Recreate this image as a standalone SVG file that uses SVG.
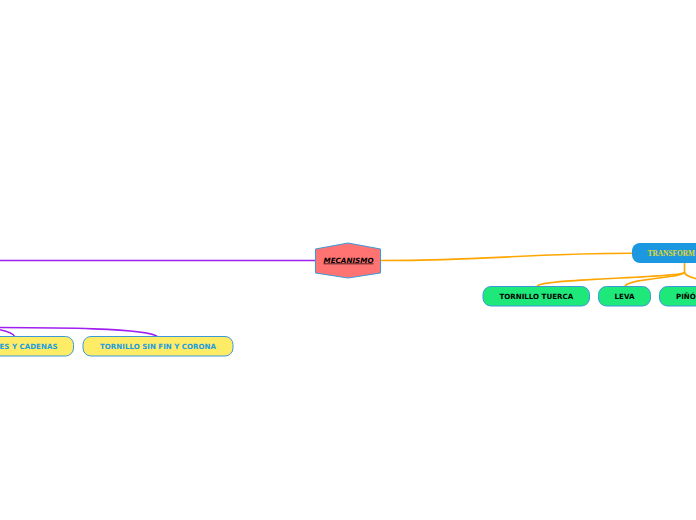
<svg xmlns="http://www.w3.org/2000/svg" width="696" height="520" viewBox="0 0 696 520">
<style>
.lbl{font-family:"DejaVu Sans",Verdana,sans-serif;font-weight:bold;font-size:7.1px;text-anchor:middle}
.green rect{fill:#1ee87a;stroke:#3a9ad9;stroke-width:1}
.yellow rect{fill:#ffec66;stroke:#3a9ad9;stroke-width:1}
.yellow text{fill:#1a9be0}
.green text{fill:#000}
.purple{fill:none;stroke:#a020f0;stroke-width:1.6}
.orange{fill:none;stroke:#ffa500;stroke-width:1.6}
</style>
<rect width="696" height="520" fill="#fff"/>
<g id="connectors">
<path class="purple" d="M0 260.5 H316" stroke-width="2"/>
<path class="purple" d="M-40 327.5 C60 327.5 150 328 158 337"/>
<path class="purple" d="M-40 326 C-10 327 12 330 15 337"/>
<path class="orange" d="M380 260.5 C500 260.5 520 253.3 633 253.3"/>
<path class="orange" d="M684.5 263 V272 C684.5 278 545 278 537 286"/>
<path class="orange" d="M684.5 272 C684.5 278 630 278 625 286"/>
<path class="orange" d="M684.5 272 C684.5 278 702 278 712 286"/>
</g>
<g id="mecanismo">
<polygon points="315.5,249 348,243 380.5,249 380.5,273 348,278 315.5,273" fill="#ff7373" stroke="#3a9ad9" stroke-width="1" stroke-linejoin="round"/>
<text x="348.5" y="262.5" font-family="'DejaVu Sans',Verdana,sans-serif" font-weight="bold" font-style="italic" font-size="7.2" text-anchor="middle" text-decoration="underline" fill="#000">MECANISMO</text>
</g>
<g id="transform">
<rect x="632" y="243" width="120" height="20" rx="8" fill="#1b98e0"/>
<text x="647.5" y="256" font-family="'Liberation Serif','Times New Roman',serif" font-weight="bold" font-size="8.3" textLength="47.5" lengthAdjust="spacingAndGlyphs" fill="#e8d820">TRANSFORM</text>
</g>
<g id="tornillo-tuerca" class="green">
<rect x="483" y="286.5" width="106.5" height="19.5" rx="8"/>
<text class="lbl" x="536.3" y="299">TORNILLO TUERCA</text>
</g>
<g id="leva" class="green">
<rect x="598.5" y="286.5" width="52" height="19.5" rx="8"/>
<text class="lbl" x="624.5" y="299">LEVA</text>
</g>
<g id="pinon" class="green">
<rect x="659.5" y="286.5" width="90" height="19.5" rx="8"/>
<text class="lbl" x="676" y="299" style="text-anchor:start">PIÑÓ</text>
</g>
<g id="cadenas" class="yellow">
<rect x="-60" y="336.5" width="133.5" height="19.5" rx="8"/>
<text class="lbl" x="57.5" y="348.5" style="text-anchor:end">ES Y CADENAS</text>
</g>
<g id="tornillo-sin-fin" class="yellow">
<rect x="83" y="336.5" width="150" height="19.5" rx="8"/>
<text class="lbl" x="158" y="348.5">TORNILLO SIN FIN Y CORONA</text>
</g>
</svg>
